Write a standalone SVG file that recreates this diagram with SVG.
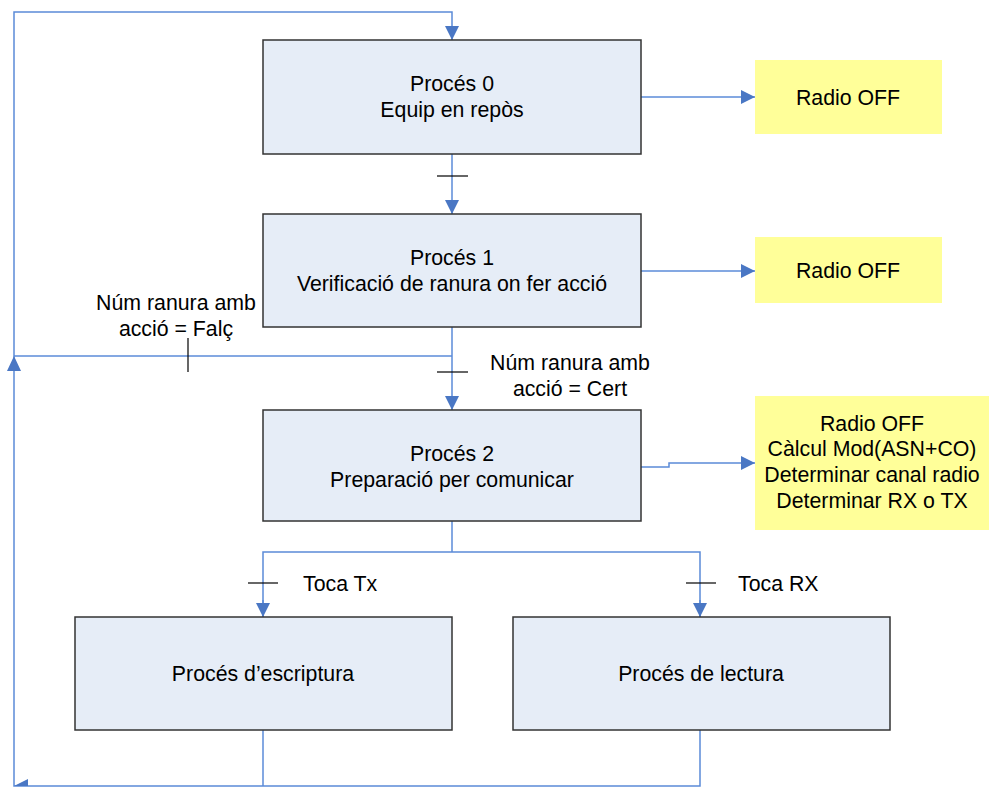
<svg xmlns="http://www.w3.org/2000/svg" width="990" height="789" viewBox="0 0 990 789">
  <defs>
    <marker id="arr" viewBox="0 0 10 10" refX="10" refY="5" markerWidth="14" markerHeight="14" markerUnits="userSpaceOnUse" orient="auto">
      <path d="M0,0 L10,5 L0,10 z" fill="#4A77C4"/>
    </marker>
    <style>
      .proc { fill: #E6EDF7; stroke: #333333; stroke-width: 1.5; }
      .note { fill: #FFFF99; stroke: none; }
      .wire { fill: none; stroke: #5B8BD8; stroke-width: 1.5; }
      .tick { fill: none; stroke: #000000; stroke-width: 1.2; }
      text { font-family: "Liberation Sans", Arial, sans-serif; font-size: 21.3px; fill: #000000; text-anchor: middle; }
      .lbl { text-anchor: start; }
    </style>
  </defs>

  <!-- connectors -->
  <g id="connectors">
    <!-- return loop to the top -->
    <polyline class="wire" points="700,730 700,786 14,786 14,12 452,12 452,40" marker-end="url(#arr)"/>
    <line class="wire" x1="263" y1="730" x2="263" y2="786"/>
    <path d="M14,356 L7,371 L21,371 z" fill="#4A77C4"/>
    <path d="M14,786 L28,779 L28,786 z" fill="#4A77C4"/>
    <!-- 0 -> 1 -->
    <line class="wire" x1="452" y1="154" x2="452" y2="214" marker-end="url(#arr)"/>
    <line class="tick" x1="437" y1="176" x2="468" y2="176"/>
    <!-- 1 -> 2 and false branch -->
    <line class="wire" x1="452" y1="327" x2="452" y2="410" marker-end="url(#arr)"/>
    <line class="wire" x1="452" y1="356" x2="14" y2="356"/>
    <line class="tick" x1="437" y1="372" x2="468" y2="372"/>
    <line class="tick" x1="188" y1="338" x2="188" y2="372"/>
    <!-- 2 -> read / write -->
    <polyline class="wire" points="452,521 452,552"/>
    <polyline class="wire" points="263,617 263,552 700,552 700,617"/>
    <line class="wire" x1="263" y1="600" x2="263" y2="617" marker-end="url(#arr)"/>
    <line class="wire" x1="700" y1="600" x2="700" y2="617" marker-end="url(#arr)"/>
    <line class="tick" x1="248" y1="583" x2="278" y2="583"/>
    <line class="tick" x1="686" y1="583" x2="716" y2="583"/>
    <!-- actions -->
    <line class="wire" x1="641" y1="97" x2="755" y2="97" marker-end="url(#arr)"/>
    <line class="wire" x1="641" y1="271" x2="755" y2="271" marker-end="url(#arr)"/>
    <polyline class="wire" points="641,467 669,467 669,463 755,463" marker-end="url(#arr)"/>
  </g>

  <g id="proces0">
    <rect class="proc" x="263" y="40" width="378" height="114"/>
    <text x="452" y="91">Procés 0</text>
    <text x="452" y="117">Equip en repòs</text>
  </g>
  <g id="proces1">
    <rect class="proc" x="263" y="214" width="378" height="113"/>
    <text x="452" y="265">Procés 1</text>
    <text x="452" y="291">Verificació de ranura on fer acció</text>
  </g>
  <g id="proces2">
    <rect class="proc" x="263" y="410" width="378" height="111"/>
    <text x="452" y="461">Procés 2</text>
    <text x="452" y="487">Preparació per comunicar</text>
  </g>
  <g id="escriptura">
    <rect class="proc" x="75" y="617" width="377" height="113"/>
    <text x="263" y="681">Procés d’escriptura</text>
  </g>
  <g id="lectura">
    <rect class="proc" x="513" y="617" width="377" height="113"/>
    <text x="701" y="681">Procés de lectura</text>
  </g>

  <g id="radio0">
    <rect class="note" x="755" y="60" width="187" height="74"/>
    <text x="848" y="105">Radio OFF</text>
  </g>
  <g id="radio1">
    <rect class="note" x="755" y="237" width="187" height="66"/>
    <text x="848" y="278">Radio OFF</text>
  </g>
  <g id="radio2">
    <rect class="note" x="755" y="396" width="234" height="134"/>
    <text x="872" y="431">Radio OFF</text>
    <text x="872" y="456">Càlcul Mod(ASN+CO)</text>
    <text x="872" y="482">Determinar canal radio</text>
    <text x="872" y="508">Determinar RX o TX</text>
  </g>

  <g id="labels">
    <text x="176" y="310">Núm ranura amb</text>
    <text x="176" y="336">acció = Falç</text>
    <text x="570" y="370">Núm ranura amb</text>
    <text x="570" y="396">acció = Cert</text>
    <text class="lbl" x="303" y="591">Toca Tx</text>
    <text class="lbl" x="738" y="591">Toca RX</text>
  </g>
</svg>
